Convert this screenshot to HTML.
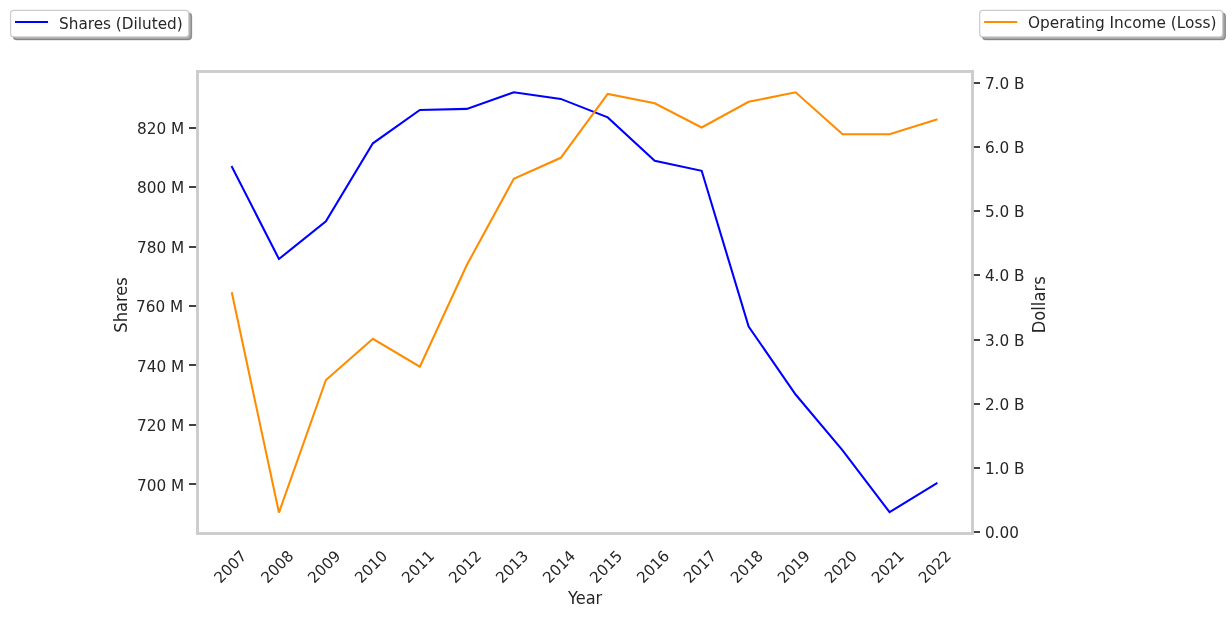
<!DOCTYPE html>
<html lang="en"><head><meta charset="utf-8"><title>Shares and Operating Income</title>
<style>
html,body{margin:0;padding:0;background:#fff;}
body{width:1232px;height:618px;overflow:hidden;}
svg{display:block;}
</style></head><body>
<svg width="1232" height="618" viewBox="0 0 1232 618" font-family="'DejaVu Sans', 'Liberation Sans', sans-serif" fill="#262626">
<g transform="translate(0.0,0.0)">
<polyline points="231.98,167.00 278.95,259.00 325.92,221.30 372.89,143.30 419.86,110.00 466.83,108.90 513.80,92.30 560.77,98.90 607.73,117.40 654.70,160.70 701.67,170.80 748.64,326.50 795.61,394.50 842.58,450.30 889.55,512.15 936.52,483.40" fill="none" stroke="#0000ff" stroke-width="2.08" stroke-linecap="square" stroke-linejoin="miter" stroke-miterlimit="2.09"/>
<polyline points="231.98,293.30 278.95,512.60 325.92,380.00 372.89,338.80 419.86,366.75 466.83,265.00 513.80,178.80 560.77,157.80 607.73,94.00 654.70,103.30 701.67,127.50 748.64,101.80 795.61,92.30 842.58,134.20 889.55,134.20 936.52,119.50" fill="none" stroke="#ff8c00" stroke-width="2.08" stroke-linecap="square" stroke-linejoin="miter" stroke-miterlimit="2.09"/>
<line x1="189.0" x2="197.50" y1="484.00" y2="484.00" stroke="#262626" stroke-width="1.74"/>
<text x="184.16" y="490.70" font-size="15.28" text-anchor="end">700 M</text>
<line x1="189.0" x2="197.50" y1="425.00" y2="425.00" stroke="#262626" stroke-width="1.74"/>
<text x="184.16" y="430.70" font-size="15.28" text-anchor="end">720 M</text>
<line x1="189.0" x2="197.50" y1="365.00" y2="365.00" stroke="#262626" stroke-width="1.74"/>
<text x="184.16" y="371.70" font-size="15.28" text-anchor="end">740 M</text>
<line x1="189.0" x2="197.50" y1="306.00" y2="306.00" stroke="#262626" stroke-width="1.74"/>
<text x="183.16" y="311.70" font-size="15.28" text-anchor="end">760 M</text>
<line x1="189.0" x2="197.50" y1="247.00" y2="247.00" stroke="#262626" stroke-width="1.74"/>
<text x="184.16" y="252.70" font-size="15.28" text-anchor="end">780 M</text>
<line x1="189.0" x2="197.50" y1="187.00" y2="187.00" stroke="#262626" stroke-width="1.74"/>
<text x="184.16" y="192.70" font-size="15.28" text-anchor="end">800 M</text>
<line x1="189.0" x2="197.50" y1="128.00" y2="128.00" stroke="#262626" stroke-width="1.74"/>
<text x="184.16" y="133.70" font-size="15.28" text-anchor="end">820 M</text>
<line x1="972.50" x2="980.0" y1="532.00" y2="532.00" stroke="#262626" stroke-width="1.74"/>
<text x="984.89" y="537.90" font-size="15.28" text-anchor="start">0.00</text>
<line x1="972.50" x2="980.0" y1="468.00" y2="468.00" stroke="#262626" stroke-width="1.74"/>
<text x="984.89" y="473.90" font-size="15.28" text-anchor="start">1.0 B</text>
<line x1="972.50" x2="980.0" y1="404.00" y2="404.00" stroke="#262626" stroke-width="1.74"/>
<text x="984.89" y="409.90" font-size="15.28" text-anchor="start">2.0 B</text>
<line x1="972.50" x2="980.0" y1="340.00" y2="340.00" stroke="#262626" stroke-width="1.74"/>
<text x="984.89" y="345.90" font-size="15.28" text-anchor="start">3.0 B</text>
<line x1="972.50" x2="980.0" y1="275.00" y2="275.00" stroke="#262626" stroke-width="1.74"/>
<text x="984.89" y="280.90" font-size="15.28" text-anchor="start">4.0 B</text>
<line x1="972.50" x2="980.0" y1="211.00" y2="211.00" stroke="#262626" stroke-width="1.74"/>
<text x="984.89" y="216.90" font-size="15.28" text-anchor="start">5.0 B</text>
<line x1="972.50" x2="980.0" y1="147.00" y2="147.00" stroke="#262626" stroke-width="1.74"/>
<text x="984.89" y="152.90" font-size="15.28" text-anchor="start">6.0 B</text>
<line x1="972.50" x2="980.0" y1="83.00" y2="83.00" stroke="#262626" stroke-width="1.74"/>
<text x="984.89" y="88.90" font-size="15.28" text-anchor="start">7.0 B</text>
<rect x="197.5" y="71.5" width="775.0" height="462.0" fill="none" stroke="#cccccc" stroke-width="2.9"/>
<text transform="translate(247.48,557.00) rotate(-45) scale(0.985,1)" font-size="15.28" text-anchor="end">2007</text>
<text transform="translate(294.45,557.00) rotate(-45) scale(0.985,1)" font-size="15.28" text-anchor="end">2008</text>
<text transform="translate(341.42,557.00) rotate(-45) scale(0.985,1)" font-size="15.28" text-anchor="end">2009</text>
<text transform="translate(388.39,557.00) rotate(-45) scale(0.985,1)" font-size="15.28" text-anchor="end">2010</text>
<text transform="translate(435.36,557.00) rotate(-45) scale(0.985,1)" font-size="15.28" text-anchor="end">2011</text>
<text transform="translate(482.33,557.00) rotate(-45) scale(0.985,1)" font-size="15.28" text-anchor="end">2012</text>
<text transform="translate(529.30,557.00) rotate(-45) scale(0.985,1)" font-size="15.28" text-anchor="end">2013</text>
<text transform="translate(576.27,557.00) rotate(-45) scale(0.985,1)" font-size="15.28" text-anchor="end">2014</text>
<text transform="translate(623.23,557.00) rotate(-45) scale(0.985,1)" font-size="15.28" text-anchor="end">2015</text>
<text transform="translate(670.20,557.00) rotate(-45) scale(0.985,1)" font-size="15.28" text-anchor="end">2016</text>
<text transform="translate(717.17,557.00) rotate(-45) scale(0.985,1)" font-size="15.28" text-anchor="end">2017</text>
<text transform="translate(764.14,557.00) rotate(-45) scale(0.985,1)" font-size="15.28" text-anchor="end">2018</text>
<text transform="translate(811.11,557.00) rotate(-45) scale(0.985,1)" font-size="15.28" text-anchor="end">2019</text>
<text transform="translate(858.08,557.00) rotate(-45) scale(0.985,1)" font-size="15.28" text-anchor="end">2020</text>
<text transform="translate(905.05,557.00) rotate(-45) scale(0.985,1)" font-size="15.28" text-anchor="end">2021</text>
<text transform="translate(952.02,557.00) rotate(-45) scale(0.985,1)" font-size="15.28" text-anchor="end">2022</text>
<text transform="translate(585.1,603.8) scale(0.971,1.063)" font-size="16.67" text-anchor="middle">Year</text>
<text transform="translate(126.9,305.0) rotate(-90) scale(0.974,1.08)" font-size="16.67" text-anchor="middle">Shares</text>
<text transform="translate(1044.6,304.8) rotate(-90) scale(0.98,1.08)" font-size="16.67" text-anchor="middle">Dollars</text>
<rect x="13.35" y="13.18" width="178.2" height="26.5" rx="3.06" fill="#4d4d4d" fill-opacity="0.5" stroke="#4d4d4d" stroke-opacity="0.5" stroke-width="1.2"/>
<rect x="10.57" y="10.40" width="178.2" height="26.5" rx="3.06" fill="#fff" stroke="#cccccc" stroke-width="1.2"/>
<line x1="16.04" x2="47.00" y1="22.00" y2="22.00" stroke="#0000ff" stroke-width="2.08" stroke-linecap="square"/>
<text x="59.03" y="29.10" font-size="15.28">Shares (Diluted)</text>
<rect x="982.48" y="13.18" width="242.9" height="26.5" rx="3.06" fill="#4d4d4d" fill-opacity="0.5" stroke="#4d4d4d" stroke-opacity="0.5" stroke-width="1.2"/>
<rect x="979.70" y="10.40" width="242.9" height="26.5" rx="3.06" fill="#fff" stroke="#cccccc" stroke-width="1.2"/>
<line x1="985.17" x2="1016.13" y1="22.00" y2="22.00" stroke="#ff8c00" stroke-width="2.08" stroke-linecap="square"/>
<text x="1027.91" y="28.10" font-size="15.35">Operating Income (Loss)</text>
</g></svg>
</body></html>
